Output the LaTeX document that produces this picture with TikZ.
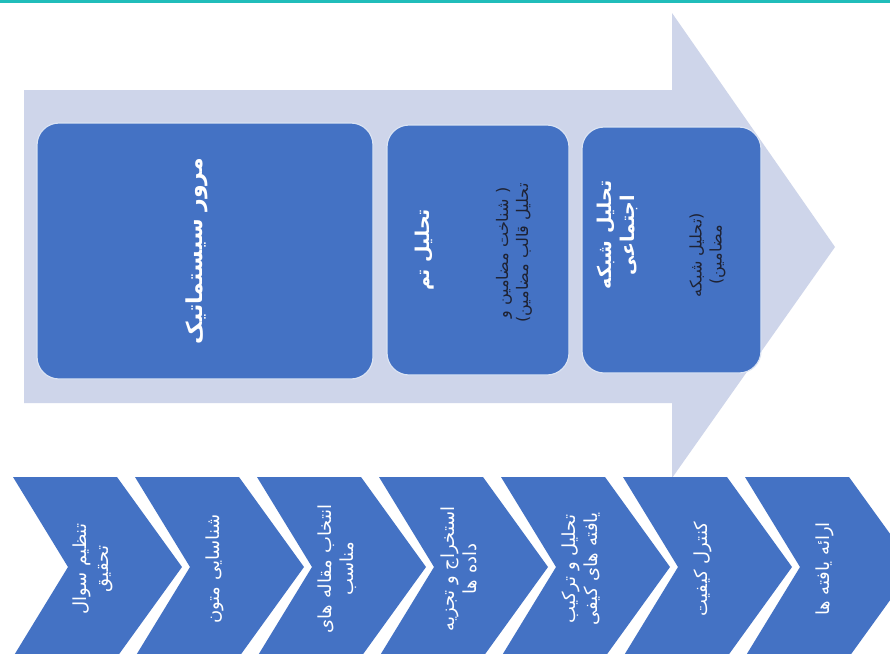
\documentclass[tikz,border=0pt]{standalone}
\usepackage{fontspec}
\usepackage{xcolor}
\newfontfamily\fafont[Script=Arabic]{DejaVu Sans}
\TeXXeTstate=1
\newcommand{\fa}[1]{\beginR #1\endR}
\definecolor{stageblue}{HTML}{4472C4}
\definecolor{arrowlav}{HTML}{CED5EA}
\definecolor{notedark}{HTML}{1E2233}
\definecolor{topteal}{HTML}{20BDBA}
\tikzset{
  stagebox/.style={draw=white!80!stageblue, line width=1.2pt, fill=stageblue,
    rounded corners=22pt, inner sep=0pt, outer sep=0pt},
  chevtext/.style={text=white, rotate=90, align=center,
    font=\fafont\fontsize{18}{22}\selectfont},
  boxtitle/.style={text=white, rotate=90, align=center,
    font=\fafont\bfseries\fontsize{19}{23}\selectfont},
  boxnote/.style={text=notedark, rotate=90, align=center,
    font=\fafont\fontsize{16}{20}\selectfont}
}
\begin{document}
\begin{tikzpicture}[x=1pt,y=-1pt]
      \useasboundingbox (0,0) rectangle (890,653);
      \clip (0,0) rectangle (890,653);
      \fill[white] (0,0) rectangle (890,653);
      % Top rule
      \fill[topteal] (0,0) rectangle (890,2.5);
      % Big arrow
      \fill[arrowlav] (24,90) -- (672,90) -- (672,13) -- (835,247)
        -- (672,478) -- (672,403) -- (24,403) -- cycle;
      % Boxes
      \node[stagebox, minimum width=336pt, minimum height=256pt] (review) at (205,251) {};
      \node[stagebox, minimum width=182pt, minimum height=250pt] (theme) at (478,250) {};
      \node[stagebox, minimum width=179pt, minimum height=246pt] (network) at (671.5,250) {};
      % Box labels
      \node[boxtitle, font=\fafont\bfseries\fontsize{22}{26}\selectfont] (reviewtitle)
        at ([xshift=-8pt]review.center) {\fa{مرور سیستماتیک}};
      \node[boxtitle] (themetitle) at ([xshift=-53pt]theme.center) {\fa{تحلیل تم}};
      \node[boxnote] (themenote) at ([xshift=36pt,yshift=-3pt]theme.center)
        {\fa{( شناخت مضامین و}\\\fa{تحلیل قالب مضامین)}};
      \node[boxtitle] (networktitle) at ([xshift=-54pt,yshift=15pt]network.center)
        {\fa{تحلیل شبکه}\\\fa{اجتماعی}};
      \node[boxnote] (networknote) at ([xshift=36pt,yshift=-5pt]network.center)
        {\fa{(تحلیل شبکه}\\\fa{مضامین)}};
      % Chevrons
      \foreach \txt [count=\i from 0] in {
          {\fa{تنظیم سوال}\\\fa{تحقیق}},
          {\fa{شناسایی متون}},
          {\fa{انتخاب مقاله های}\\\fa{مناسب}},
          {\fa{استخراج و تجزیه}\\\fa{داده ها}},
          {\fa{تحلیل و ترکیب}\\\fa{یافته های کیفی}},
          {\fa{کنترل کیفیت}},
          {\fa{ارائه یافته ها}}} {
        \pgfmathsetmacro\xl{13+122*\i}
        \fill[stageblue] (\xl,477) -- ++(104,0) -- ++(65,90) -- ++(-65,90)
          -- ++(-104,0) -- ++(55,-90) -- cycle;
        \node[chevtext] (chev\i) at (\xl+80,569) {\txt};
      }
    \end{tikzpicture}
\end{document}
